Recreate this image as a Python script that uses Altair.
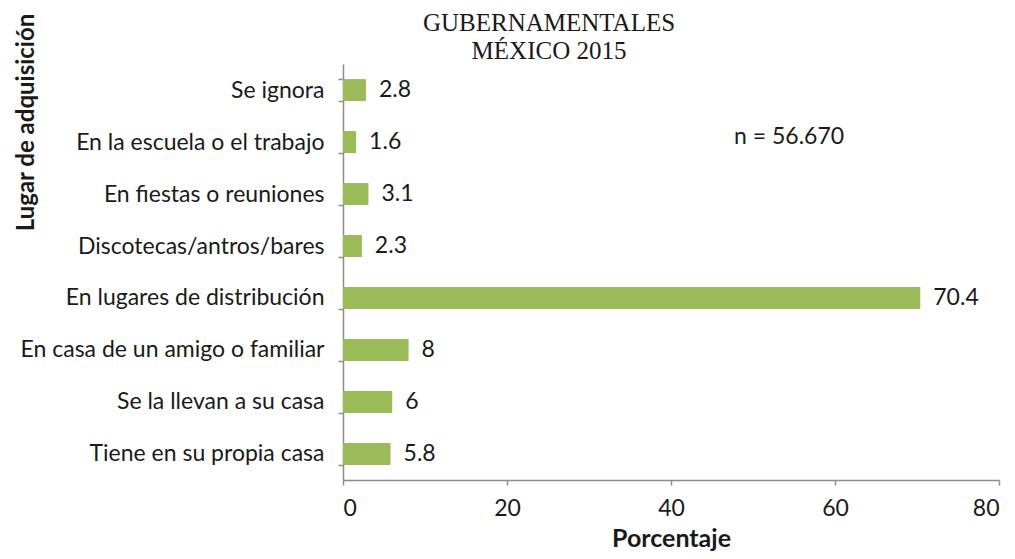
import altair as alt
import pandas as pd

categories = [
    "Se ignora",
    "En la escuela o el trabajo",
    "En fiestas o reuniones",
    "Discotecas/antros/bares",
    "En lugares de distribución",
    "En casa de un amigo o familiar",
    "Se la llevan a su casa",
    "Tiene en su propia casa",
]
values = [2.8, 1.6, 3.1, 2.3, 70.4, 8, 6, 5.8]
value_labels = ["2.8", "1.6", "3.1", "2.3", "70.4", "8", "6", "5.8"]
x_ticks = [0, 20, 40, 60, 80]
title_lines = ["GUBERNAMENTALES", "MÉXICO 2015"]
note_text = ["n = 56.670"]
note_x = [54.4]
note_category = ["En la escuela o el trabajo"]

df = pd.DataFrame({"lugar": categories, "pct": values, "label": value_labels})
note_df = pd.DataFrame({"lugar": note_category, "x": note_x, "text": note_text})

FONT = "Lato"
TXT = "#1a1a1a"
AX = "#8c8c8c"
GREEN = "#9BBB59"

y_enc = alt.Y(
    "lugar:N",
    sort=categories,
    scale=alt.Scale(paddingInner=0.577, paddingOuter=0.29),
    axis=alt.Axis(
        title="Lugar de adquisición",
        tickBand="extent",
        tickSize=5,
        labelPadding=14,
        labelLimit=400,
        titleX=-310,
        titleY=58,
        titleAngle=-90,
        titleAlign="center",
        titleBaseline="alphabetic",
        titleFontSize=24,
    ),
)
x_enc = alt.X(
    "pct:Q",
    scale=alt.Scale(domain=[0, 80], nice=False),
    axis=alt.Axis(
        title="Porcentaje",
        values=x_ticks,
        grid=False,
        tickSize=5,
        labelPadding=12,
        titleX=328,
        titleY=66,
        titleBaseline="alphabetic",
        titleAlign="center",
    ),
)

bars = alt.Chart(df).mark_bar(color=GREEN).encode(x=x_enc, y=y_enc)
texts = alt.Chart(df).mark_text(
    align="left", baseline="middle", dx=13, font=FONT, fontSize=23, color=TXT
).encode(x="pct:Q", y=alt.Y("lugar:N", sort=categories), text="label:N")
note = alt.Chart(note_df).mark_text(
    align="center", baseline="middle", dy=-5, font=FONT, fontSize=23, color=TXT
).encode(x="x:Q", y=alt.Y("lugar:N", sort=categories), text="text:N")

chart = (
    alt.layer(bars, texts, note)
    .properties(
        width=656,
        height=416,
        autosize=alt.AutoSizeParams(type="none"),
        padding={"left": 335, "top": 56, "right": 8, "bottom": 71},
        title=alt.TitleParams(
            text=title_lines,
            font="Liberation Serif",
            fontSize=25,
            fontWeight="normal",
            color=TXT,
            anchor="middle",
            frame="group",
            dx=-122,
            lineHeight=28,
            baseline="alphabetic",
            offset=-71,
        ),
    )
    .configure_view(stroke=None)
    .configure_axis(
        domainColor=AX,
        tickColor=AX,
        domainWidth=1.5,
        tickWidth=1.5,
        labelFont=FONT,
        labelFontSize=23,
        labelColor=TXT,
        titleFont=FONT,
        titleFontSize=25,
        titleFontWeight="bold",
        titleColor=TXT,
    )
)

chart.save("out.html", embed_options={"renderer": "svg", "actions": False})
